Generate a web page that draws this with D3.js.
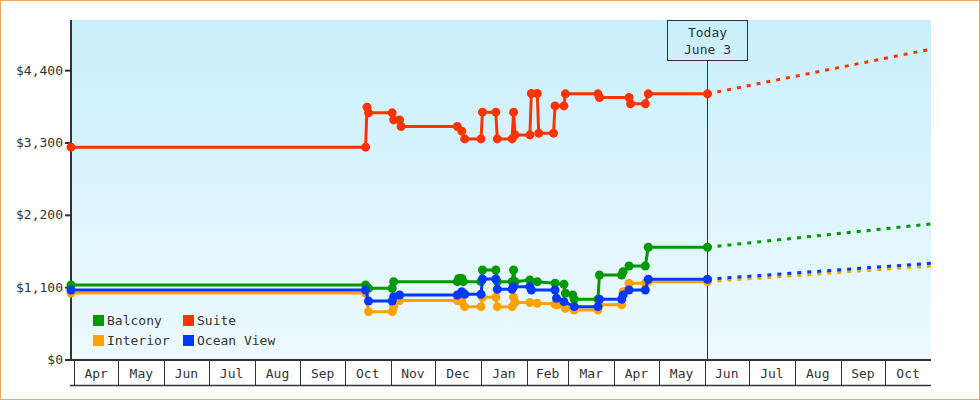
<!DOCTYPE html>
<html>
<head>
<meta charset="utf-8">
<script src="https://cdn.jsdelivr.net/npm/d3@7"></script>
<style>
  body { margin: 0; background: #fff; }
  svg { display: block; }
  text { font-family: "DejaVu Sans Mono", monospace; font-size: 13px; fill: #333; }
</style>
</head>
<body>
<svg id="chart" width="980" height="400"></svg>
<script>
// Price history per cabin type
const balconyDates = ["2024-03-30","2024-10-15","2024-10-17","2024-11-02","2024-11-03","2024-12-16","2024-12-17","2024-12-19","2024-12-20","2025-01-01","2025-01-02","2025-01-11","2025-01-12","2025-01-22","2025-01-23","2025-01-24","2025-02-03","2025-02-08","2025-02-20","2025-02-26","2025-02-27","2025-03-04","2025-03-05","2025-03-21","2025-03-22","2025-04-06","2025-04-07","2025-04-11","2025-04-22","2025-04-24","2025-06-03"];
const balconyPrices = [1141,1141,1091,1091,1191,1191,1240,1240,1191,1191,1369,1369,1191,1191,1369,1191,1217,1191,1167,1152,1015,989,923,923,1293,1293,1343,1430,1430,1715,1715];

const interiorDates = ["2024-03-30","2024-10-15","2024-10-17","2024-11-02","2024-11-03","2024-11-07","2024-12-16","2024-12-19","2024-12-21","2025-01-01","2025-01-02","2025-01-11","2025-01-12","2025-01-22","2025-01-23","2025-01-24","2025-02-03","2025-02-08","2025-02-20","2025-02-21","2025-02-26","2025-02-27","2025-03-05","2025-03-21","2025-03-22","2025-04-06","2025-04-07","2025-04-11","2025-04-22","2025-04-24","2025-06-03"];
const interiorPrices = [1019,1019,735,735,810,905,905,890,811,811,954,954,811,811,954,875,875,862,850,837,837,787,761,761,840,840,1039,1167,1167,1191,1191];

const oceanDates = ["2024-03-30","2024-10-15","2024-10-17","2024-11-02","2024-11-03","2024-11-07","2024-12-16","2024-12-19","2024-12-21","2025-01-01","2025-01-02","2025-01-11","2025-01-12","2025-01-22","2025-01-23","2025-02-03","2025-02-04","2025-02-20","2025-02-21","2025-02-26","2025-03-05","2025-03-21","2025-03-22","2025-04-06","2025-04-07","2025-04-11","2025-04-22","2025-04-24","2025-06-03"];
const oceanPrices = [1065,1065,898,898,963,989,989,1039,1000,1000,1232,1232,1075,1075,1115,1115,1065,1065,939,887,811,811,923,923,989,1065,1065,1228,1228];

const suiteDates = ["2024-03-30","2024-10-15","2024-10-16","2024-10-17","2024-11-02","2024-11-03","2024-11-07","2024-11-08","2024-12-16","2024-12-19","2024-12-21","2025-01-01","2025-01-02","2025-01-11","2025-01-12","2025-01-22","2025-01-23","2025-01-24","2025-02-03","2025-02-04","2025-02-08","2025-02-09","2025-02-19","2025-02-20","2025-02-26","2025-02-27","2025-03-21","2025-03-22","2025-04-11","2025-04-12","2025-04-22","2025-04-24","2025-06-03"];
const suitePrices = [3236,3236,3845,3758,3758,3651,3651,3550,3550,3480,3362,3362,3769,3769,3362,3362,3769,3423,3423,4052,4052,3449,3449,3864,3864,4047,4047,3991,3991,3895,3895,4047,4047];

// Forecast to end of range
const todayDate = "2025-06-03";
const forecastEnd = "2025-11-01";
const forecastPrices = { Balcony: 2069, Interior: 1430, "Ocean View": 1471, Suite: 4727 };

const yTicks = [0, 1100, 2200, 3300, 4400];
const seriesNames = ["Balcony", "Interior", "Ocean View", "Suite"];
const colors = { Balcony: "#009900", Interior: "#ffa200", "Ocean View": "#0038ff", Suite: "#ff3300" };

const width = 980, height = 400;
const margin = { top: 20, right: 49, bottom: 40, left: 71 };
const parse = d3.timeParse("%Y-%m-%d");

const x = d3.scaleTime()
    .domain([parse("2024-03-30"), parse("2025-11-01")])
    .range([margin.left, width - margin.right]);

const y = d3.scaleLinear()
    .domain([0, 5170])
    .range([height - margin.bottom, margin.top]);

const svg = d3.select("#chart");

// outer border
svg.append("rect")
    .attr("x", 0.5).attr("y", 0.5)
    .attr("width", width - 1).attr("height", height - 1)
    .attr("fill", "#fff")
    .attr("stroke", "#eaa95e");

// background gradient
const grad = svg.append("defs").append("linearGradient")
    .attr("id", "bg").attr("x1", 0).attr("y1", 0).attr("x2", 0).attr("y2", 1);
grad.append("stop").attr("offset", "0%").attr("stop-color", "#c9effc");
grad.append("stop").attr("offset", "100%").attr("stop-color", "#eefafe");

svg.append("rect")
    .attr("x", x.range()[0]).attr("y", y.range()[1])
    .attr("width", x.range()[1] - x.range()[0])
    .attr("height", y.range()[0] - y.range()[1])
    .attr("fill", "url(#bg)");

// y axis
svg.append("line")
    .attr("x1", margin.left).attr("x2", margin.left)
    .attr("y1", y.range()[1]).attr("y2", y.range()[0] + 1)
    .attr("stroke", "#333").attr("stroke-width", 2);

yTicks.forEach(t => {
    svg.append("line")
        .attr("x1", margin.left - 6).attr("x2", margin.left)
        .attr("y1", y(t)).attr("y2", y(t))
        .attr("stroke", "#333").attr("stroke-width", 2);
    svg.append("text")
        .attr("x", margin.left - 8).attr("y", y(t) + 4)
        .attr("text-anchor", "end")
        .text("$" + d3.format(",")(t));
});

// month band axis
const axisY = y.range()[0];
svg.append("line")
    .attr("x1", margin.left - 1).attr("x2", x.range()[1])
    .attr("y1", axisY).attr("y2", axisY)
    .attr("stroke", "#333").attr("stroke-width", 2);
svg.append("line")
    .attr("x1", margin.left - 1).attr("x2", x.range()[1])
    .attr("y1", axisY + 25.5).attr("y2", axisY + 25.5)
    .attr("stroke", "#333").attr("stroke-width", 1.5);

const months = d3.timeMonth.range(parse("2024-04-01"), parse("2025-11-01"));
months.forEach(m => {
    const xs = Math.round(x(m)) + 0.5;
    svg.append("line")
        .attr("x1", xs).attr("x2", xs)
        .attr("y1", axisY).attr("y2", axisY + 25)
        .attr("stroke", "#333").attr("stroke-width", 1);
    const next = d3.timeMonth.offset(m, 1);
    svg.append("text")
        .attr("x", (x(m) + x(next)) / 2)
        .attr("y", axisY + 18)
        .attr("text-anchor", "middle")
        .text(d3.timeFormat("%b")(m));
});

// today marker
const tx = Math.round(x(parse(todayDate))) + 0.5;
svg.append("line")
    .attr("x1", tx).attr("x2", tx)
    .attr("y1", 60).attr("y2", axisY)
    .attr("stroke", "#333").attr("stroke-width", 1);
svg.append("rect")
    .attr("x", tx - 40).attr("y", 20.5)
    .attr("width", 80).attr("height", 40)
    .attr("fill", "none")
    .attr("stroke", "#333");
svg.append("text").attr("x", tx).attr("y", 37).attr("text-anchor", "middle").text("Today");
svg.append("text").attr("x", tx).attr("y", 54).attr("text-anchor", "middle").text("June 3");

// series
const seriesData = {
    Balcony: d3.zip(balconyDates, balconyPrices),
    Interior: d3.zip(interiorDates, interiorPrices),
    "Ocean View": d3.zip(oceanDates, oceanPrices),
    Suite: d3.zip(suiteDates, suitePrices)
};

const line = d3.line()
    .x(d => x(parse(d[0])))
    .y(d => y(d[1]));

seriesNames.forEach(name => {
    const pts = seriesData[name];
    const last = pts[pts.length - 1];

    // dashed forecast
    svg.append("path")
        .datum([last, [forecastEnd, forecastPrices[name]]])
        .attr("fill", "none")
        .attr("stroke", colors[name])
        .attr("stroke-width", 3)
        .attr("stroke-dasharray", "4,6")
        .attr("d", line);

    svg.append("path")
        .datum(pts)
        .attr("fill", "none")
        .attr("stroke", colors[name])
        .attr("stroke-width", 3)
        .attr("stroke-linejoin", "round")
        .attr("d", line);

    svg.selectAll(null)
        .data(pts)
        .enter().append("circle")
        .attr("cx", d => x(parse(d[0])))
        .attr("cy", d => y(d[1]))
        .attr("r", 4.5)
        .attr("fill", colors[name]);
});

// legend
const legendItems = [
    { name: "Balcony", col: 0, row: 0 },
    { name: "Suite", col: 1, row: 0 },
    { name: "Interior", col: 0, row: 1 },
    { name: "Ocean View", col: 1, row: 1 }
];
legendItems.forEach(it => {
    const lx = 93 + it.col * 90, ly = 315 + it.row * 20;
    svg.append("rect")
        .attr("x", lx).attr("y", ly)
        .attr("width", 11).attr("height", 11)
        .attr("fill", colors[it.name]);
    svg.append("text")
        .attr("x", lx + 14).attr("y", ly + 10)
        .text(it.name);
});
</script>
</body>
</html>
